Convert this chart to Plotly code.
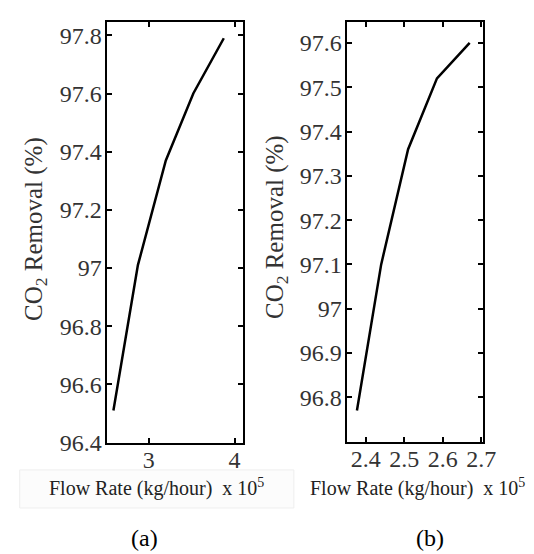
import plotly.graph_objects as go

# Panel (a)
a_flow = [2.59, 2.875, 3.2, 3.52, 3.875]
a_removal = [96.51, 97.01, 97.37, 97.6, 97.79]
a_xticks = [3, 4]
a_xtick_text = ["3", "4"]
a_yticks = [96.4, 96.6, 96.8, 97.0, 97.2, 97.4, 97.6, 97.8]
a_ytick_text = ["96.4", "96.6", "96.8", "97", "97.2", "97.4", "97.6", "97.8"]

# Panel (b)
b_flow = [2.377, 2.44, 2.51, 2.585, 2.67]
b_removal = [96.77, 97.1, 97.36, 97.52, 97.6]
b_xticks = [2.4, 2.5, 2.6, 2.7]
b_xtick_text = ["2.4", "2.5", "2.6", "2.7"]
b_yticks = [96.8, 96.9, 97.0, 97.1, 97.2, 97.3, 97.4, 97.5, 97.6]
b_ytick_text = ["96.8", "96.9", "97", "97.1", "97.2", "97.3", "97.4", "97.5", "97.6"]

W, H = 534, 554
def px(x):
    return x / W
def py(y):
    return 1 - y / H

SERIF = "Liberation Serif"
tickfont = dict(family=SERIF, size=24, color="#333333")

fig = go.Figure()
fig.add_trace(go.Scatter(x=a_flow, y=a_removal, mode="lines",
                         line=dict(color="black", width=2.5),
                         xaxis="x", yaxis="y", showlegend=False))
fig.add_trace(go.Scatter(x=b_flow, y=b_removal, mode="lines",
                         line=dict(color="black", width=2.5),
                         xaxis="x2", yaxis="y2", showlegend=False))

axis_common = dict(showline=True, linecolor="black", linewidth=2, mirror="ticks",
                   ticks="inside", ticklen=5, tickwidth=1.5, tickcolor="black",
                   showgrid=False, zeroline=False, tickfont=tickfont, fixedrange=True)

fig.update_layout(
    width=W, height=H,
    margin=dict(l=0, r=0, t=0, b=0),
    paper_bgcolor="white", plot_bgcolor="white",
    xaxis=dict(domain=[px(101), px(241)], range=[2.51, 4.10], anchor="y",
               tickvals=a_xticks, ticktext=a_xtick_text, ticklabelstandoff=-5,
               **axis_common),
    yaxis=dict(domain=[py(445), py(14)], range=[96.4, 97.847], anchor="x",
               tickvals=a_yticks, ticktext=a_ytick_text, ticklabelstandoff=-2,
               **axis_common),
    xaxis2=dict(domain=[px(347), px(487)], range=[2.35, 2.705], anchor="y2",
                tickvals=b_xticks, ticktext=b_xtick_text, ticklabelstandoff=-5,
                **axis_common),
    yaxis2=dict(domain=[py(444), py(14)], range=[96.70, 97.648], anchor="x2",
                tickvals=b_yticks, ticktext=b_ytick_text, ticklabelstandoff=-2,
                **axis_common),
)

# faint box behind the x title of panel (a)
fig.add_shape(type="rect", xref="paper", yref="paper",
              x0=px(12), x1=px(293), y0=py(512), y1=py(473),
              fillcolor="#fcfcfc", line=dict(color="#eeeeee", width=1), layer="below")

ytitle = "CO<sub>2</sub> Removal (%)"
xtitle = "Flow Rate (kg/hour)  x 10<sup>5</sup>"
annos = [
    dict(x=px(28), y=py(226), text=ytitle, textangle=-90,
         font=dict(family=SERIF, size=25, color="#333333")),
    dict(x=px(275), y=py(224), text=ytitle, textangle=-90,
         font=dict(family=SERIF, size=25, color="#333333")),
    dict(x=px(152), y=py(491), text=xtitle,
         font=dict(family=SERIF, size=20, color="#222222")),
    dict(x=px(420), y=py(491), text=xtitle,
         font=dict(family=SERIF, size=20, color="#222222")),
    dict(x=px(140), y=py(543), text="(a)",
         font=dict(family=SERIF, size=24, color="black")),
    dict(x=px(433), y=py(543), text="(b)",
         font=dict(family=SERIF, size=24, color="black")),
]
for a in annos:
    fig.add_annotation(xref="paper", yref="paper", xanchor="center", yanchor="middle",
                       showarrow=False, borderpad=0, **a)

fig.write_html("out.html")
